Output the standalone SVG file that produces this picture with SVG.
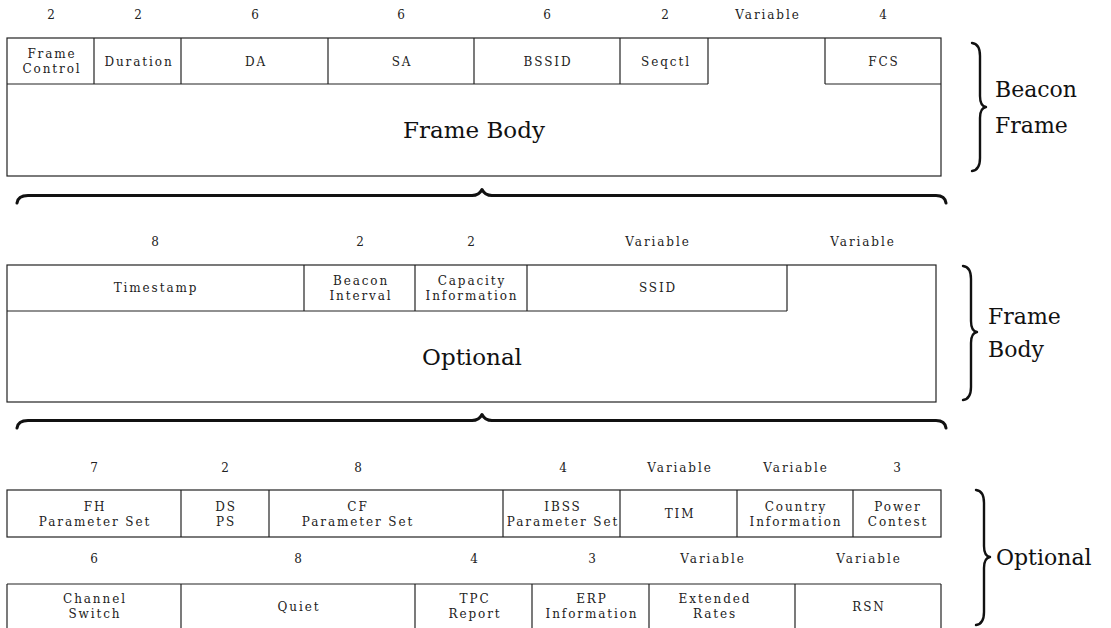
<svg xmlns="http://www.w3.org/2000/svg" width="1111" height="628" viewBox="0 0 1111 628">
<style>
.bx{fill:none;stroke:#222;stroke-width:1.2}
.ln{stroke:#222;stroke-width:1.2}
.s{font-family:"DejaVu Serif","Liberation Serif",serif;font-size:12px;letter-spacing:1.9px;fill:#222;text-anchor:middle}
.b{font-family:"DejaVu Serif","Liberation Serif",serif;font-size:23px;fill:#111;text-anchor:middle}
.r{font-family:"DejaVu Serif","Liberation Serif",serif;font-size:22px;fill:#111}
.br{fill:none;stroke:#111;stroke-width:3;stroke-linecap:round;stroke-linejoin:round}
.vb{fill:none;stroke:#111;stroke-width:2.4;stroke-linecap:round;stroke-linejoin:round}
</style>
<rect width="1111" height="628" fill="#fff"/>

<!-- ===== Beacon frame ===== -->
<g id="beacon-frame">
<rect class="bx" x="7" y="38" width="934" height="138"/>
<line class="ln" x1="7" y1="84" x2="708" y2="84"/>
<line class="ln" x1="825" y1="84" x2="941" y2="84"/>
</g>
<g id="frame-control">
<line class="ln" x1="94" y1="38" x2="94" y2="84"/>
<text class="s" x="52" y="18.5">2</text>
<text class="s" x="52" y="57.5">Frame</text>
<text class="s" x="52" y="72.5">Control</text>
</g>
<g id="duration">
<line class="ln" x1="181" y1="38" x2="181" y2="84"/>
<text class="s" x="139" y="18.5">2</text>
<text class="s" x="139" y="65.5">Duration</text>
</g>
<g id="da">
<line class="ln" x1="328" y1="38" x2="328" y2="84"/>
<text class="s" x="256" y="18.5">6</text>
<text class="s" x="256" y="65.5">DA</text>
</g>
<g id="sa">
<line class="ln" x1="474" y1="38" x2="474" y2="84"/>
<text class="s" x="402" y="18.5">6</text>
<text class="s" x="402" y="65.5">SA</text>
</g>
<g id="bssid">
<line class="ln" x1="620" y1="38" x2="620" y2="84"/>
<text class="s" x="548" y="18.5">6</text>
<text class="s" x="548" y="65.5">BSSID</text>
</g>
<g id="seqctl">
<line class="ln" x1="708" y1="38" x2="708" y2="84"/>
<text class="s" x="666" y="18.5">2</text>
<text class="s" x="666" y="65.5">Seqctl</text>
</g>
<g id="variable-top">
<text class="s" x="768" y="18.5">Variable</text>
</g>
<g id="fcs">
<line class="ln" x1="825" y1="38" x2="825" y2="84"/>
<text class="s" x="884" y="18.5">4</text>
<text class="s" x="884" y="65.5">FCS</text>
</g>
<g id="frame-body-top">
<text class="b" x="474" y="138">Frame Body</text>
</g>

<!-- ===== Frame body ===== -->
<g id="frame-body">
<rect class="bx" x="7" y="265" width="929" height="137"/>
<line class="ln" x1="7" y1="311" x2="787" y2="311"/>
</g>
<g id="timestamp">
<line class="ln" x1="304" y1="265" x2="304" y2="311"/>
<text class="s" x="156" y="245.5">8</text>
<text class="s" x="156" y="291.5">Timestamp</text>
</g>
<g id="beacon-interval">
<line class="ln" x1="415" y1="265" x2="415" y2="311"/>
<text class="s" x="361" y="245.5">2</text>
<text class="s" x="361" y="284.5">Beacon</text>
<text class="s" x="361" y="299.5">Interval</text>
</g>
<g id="capacity-information">
<line class="ln" x1="527" y1="265" x2="527" y2="311"/>
<text class="s" x="472" y="245.5">2</text>
<text class="s" x="472" y="284.5">Capacity</text>
<text class="s" x="472" y="299.5">Information</text>
</g>
<g id="ssid">
<line class="ln" x1="787" y1="265" x2="787" y2="311"/>
<text class="s" x="658" y="245.5">Variable</text>
<text class="s" x="658" y="291.5">SSID</text>
</g>
<g id="variable-mid">
<text class="s" x="863" y="245.5">Variable</text>
</g>
<g id="optional-mid">
<text class="b" x="472" y="365">Optional</text>
</g>

<!-- ===== Optional ===== -->
<g id="optional-row1">
<rect class="bx" x="7" y="490" width="934" height="47"/>
</g>
<g id="fh-parameter-set">
<line class="ln" x1="181" y1="490" x2="181" y2="537"/>
<text class="s" x="95" y="471.5">7</text>
<text class="s" x="95" y="510.5">FH</text>
<text class="s" x="95" y="525.5">Parameter Set</text>
</g>
<g id="ds-ps">
<line class="ln" x1="269" y1="490" x2="269" y2="537"/>
<text class="s" x="226" y="471.5">2</text>
<text class="s" x="226" y="510.5">DS</text>
<text class="s" x="226" y="525.5">PS</text>
</g>
<g id="cf-parameter-set">
<line class="ln" x1="503" y1="490" x2="503" y2="537"/>
<text class="s" x="359" y="471.5">8</text>
<text class="s" x="358" y="510.5">CF</text>
<text class="s" x="358" y="525.5">Parameter Set</text>
</g>
<g id="ibss-parameter-set">
<line class="ln" x1="620" y1="490" x2="620" y2="537"/>
<text class="s" x="564" y="471.5">4</text>
<text class="s" x="563" y="510.5">IBSS</text>
<text class="s" x="563" y="525.5">Parameter Set</text>
</g>
<g id="tim">
<line class="ln" x1="737" y1="490" x2="737" y2="537"/>
<text class="s" x="680" y="471.5">Variable</text>
<text class="s" x="680" y="517.5">TIM</text>
</g>
<g id="country-information">
<line class="ln" x1="853" y1="490" x2="853" y2="537"/>
<text class="s" x="796" y="471.5">Variable</text>
<text class="s" x="796" y="510.5">Country</text>
<text class="s" x="796" y="525.5">Information</text>
</g>
<g id="power-contest">
<text class="s" x="898" y="471.5">3</text>
<text class="s" x="898" y="510.5">Power</text>
<text class="s" x="898" y="525.5">Contest</text>
</g>

<g id="optional-row2">
<line class="ln" x1="7" y1="584" x2="941" y2="584"/>
<line class="ln" x1="7" y1="584" x2="7" y2="632"/>
<line class="ln" x1="941" y1="584" x2="941" y2="632"/>
</g>
<g id="channel-switch">
<line class="ln" x1="181" y1="584" x2="181" y2="632"/>
<text class="s" x="95" y="562.5">6</text>
<text class="s" x="95" y="602.5">Channel</text>
<text class="s" x="95" y="617.5">Switch</text>
</g>
<g id="quiet">
<line class="ln" x1="415" y1="584" x2="415" y2="632"/>
<text class="s" x="299" y="562.5">8</text>
<text class="s" x="299" y="610.5">Quiet</text>
</g>
<g id="tpc-report">
<line class="ln" x1="532" y1="584" x2="532" y2="632"/>
<text class="s" x="475" y="562.5">4</text>
<text class="s" x="475" y="602.5">TPC</text>
<text class="s" x="475" y="617.5">Report</text>
</g>
<g id="erp-information">
<line class="ln" x1="649" y1="584" x2="649" y2="632"/>
<text class="s" x="593" y="562.5">3</text>
<text class="s" x="592" y="602.5">ERP</text>
<text class="s" x="592" y="617.5">Information</text>
</g>
<g id="extended-rates">
<line class="ln" x1="795" y1="584" x2="795" y2="632"/>
<text class="s" x="713" y="562.5">Variable</text>
<text class="s" x="715" y="602.5">Extended</text>
<text class="s" x="715" y="617.5">Rates</text>
</g>
<g id="rsn">
<text class="s" x="869" y="562.5">Variable</text>
<text class="s" x="869" y="610.5">RSN</text>
</g>

<!-- ===== Braces ===== -->
<g id="connectors">
<path class="br" d="M17,203 Q18,195.5 28,195.5 L472,195.5 Q479,195.5 482,189.5 Q485,195.5 492,195.5 L936,195.5 Q945,195.5 946,203"/>
<path class="br" d="M17,428 Q18,420.5 28,420.5 L472,420.5 Q479,420.5 482,414.5 Q485,420.5 492,420.5 L936,420.5 Q945,420.5 946,428"/>
<path class="vb" d="M972,43 Q980,44 980,56 L980,96 Q980,106 986,107 Q980,108 980,118 L980,158 Q980,170 972,171"/>
<path class="vb" d="M963,266 Q971,267 971,279 L971,321 Q971,331 977,332 Q971,333 971,343 L971,387 Q971,399 963,400"/>
<path class="vb" d="M976,490 Q984,491 984,503 L984,546 Q984,556 990,557 Q984,558 984,568 L984,612 Q984,624 976,625"/>
</g>

<g id="labels">
<text class="r" x="995" y="97">Beacon</text>
<text class="r" x="995" y="133">Frame</text>
<text class="r" x="988" y="324">Frame</text>
<text class="r" x="988" y="357">Body</text>
<text class="r" x="996" y="565">Optional</text>
</g>
</svg>
